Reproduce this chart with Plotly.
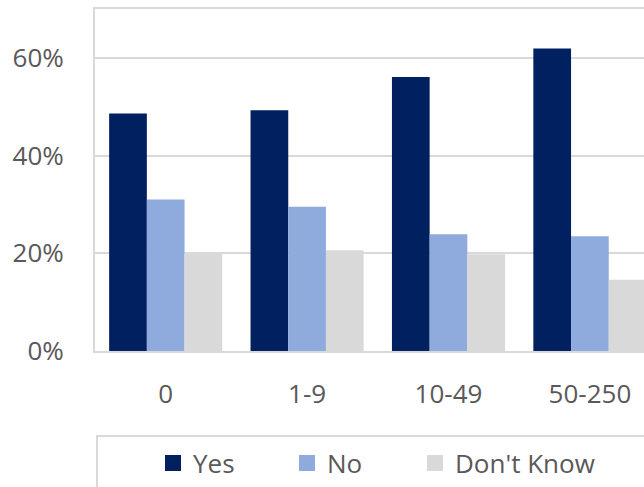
import plotly.graph_objects as go

categories = ["0", "1-9", "10-49", "50-250"]
yes_vals = [0.486, 0.493, 0.561, 0.619]
no_vals = [0.310, 0.295, 0.239, 0.235]
dk_vals = [0.201, 0.206, 0.198, 0.146]
series_names = ["Yes", "No", "Don't Know"]
colors = ["#002060", "#8FAADC", "#D9D9D9"]
y_ticks = [0, 0.2, 0.4, 0.6]
y_tick_labels = ["0%", "20%", "40%", "60%"]

W, H = 644, 487
ML, MT, MR, MB = 95, 9, 0, 136
PW, PH = W - ML - MR, H - MT - MB
band = 141.4
x_right = (W - ML) / band - 0.5

font = dict(family="Open Sans", size=26, color="#595959")

legend_names = ["legend", "legend2", "legend3"]
legend_px = [153, 287, 415]

fig = go.Figure()
for name, vals, col, lg in zip(series_names, [yes_vals, no_vals, dk_vals], colors, legend_names):
    fig.add_trace(go.Bar(x=categories, y=vals, name=name, marker=dict(color=col, line=dict(width=0)),
                         showlegend=False))
    fig.add_trace(go.Scatter(x=[None], y=[None], mode="markers", name=name, legend=lg,
                             marker=dict(symbol="square", size=17, color=col)))

legend_y = -(463 - (H - MB)) / PH
layout_legends = {}
for lg, px in zip(legend_names, legend_px):
    layout_legends[lg] = dict(orientation="h", x=(px - ML) / PW, xanchor="left",
                              y=legend_y, yanchor="middle", font=font,
                              bgcolor="rgba(0,0,0,0)", itemwidth=30)

fig.update_layout(
    width=W, height=H,
    margin=dict(l=ML, r=MR, t=MT, b=MB),
    paper_bgcolor="white", plot_bgcolor="white",
    font=font,
    barmode="group", bargap=0.2, bargroupgap=0,
    showlegend=True,
    xaxis=dict(range=[-0.5, x_right], showgrid=False, showline=True, linecolor="#D9D9D9",
               linewidth=2, mirror=True, ticks="", ticklabelstandoff=19, tickfont=font),
    yaxis=dict(range=[0, 0.70], tickvals=y_ticks, ticktext=y_tick_labels, showgrid=True,
               gridcolor="#D9D9D9", gridwidth=2, showline=True, linecolor="#D9D9D9", linewidth=2,
               zeroline=False, ticks="", ticklabelstandoff=24, tickfont=font),
    shapes=[dict(type="rect", xref="paper", yref="paper",
                 x0=(97 - ML) / PW, x1=1.2,
                 y0=-(436 - (H - MB)) / PH, y1=-0.6,
                 line=dict(color="#D9D9D9", width=2), fillcolor="rgba(0,0,0,0)", layer="below")],
    **layout_legends,
)

fig.write_html("out.html")
